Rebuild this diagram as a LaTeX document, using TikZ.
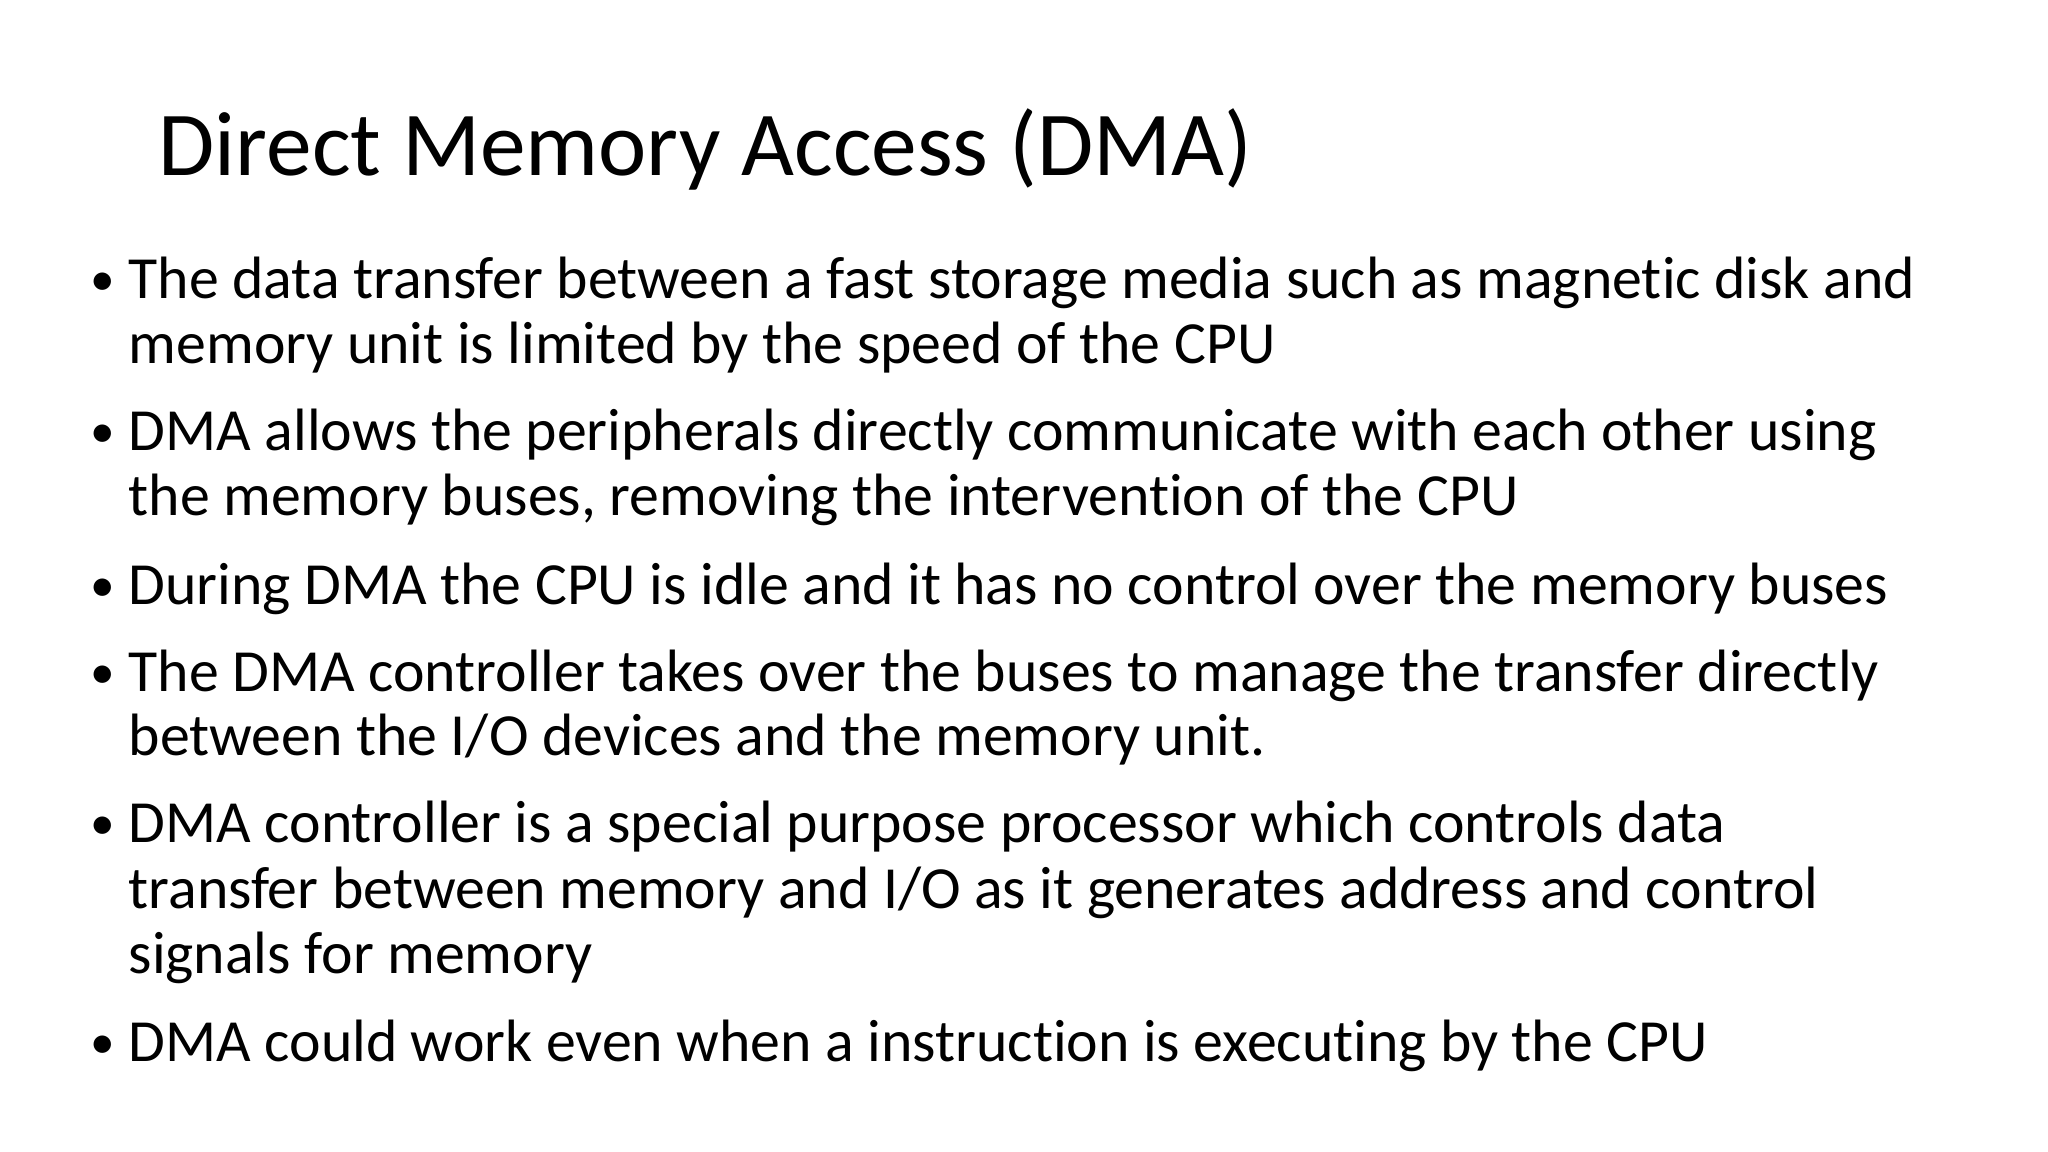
\documentclass[tikz,border=0pt]{standalone}
\usepackage{fontspec}
\setmainfont[Ligatures=NoCommon]{Carlito}
\begin{document}
\begin{tikzpicture}[x=0.01cm,y=-0.01cm,
  line/.style={anchor=base west,inner sep=0pt,font=\fontsize{17pt}{22pt}\selectfont},
  bul/.style={anchor=base west,inner sep=0pt,font=\fontsize{14pt}{18pt}\selectfont}]
\useasboundingbox (0,0) rectangle (2048,1152);
\node[anchor=base west,inner sep=0pt,font=\fontsize{26pt}{30pt}\selectfont] (title) at (158,176) {Direct Memory Access (DMA)};
\foreach \y/\n in {296/b1,448/b2,601/b3,688/b4,839/b5,1058/b6}
  \node[bul] (\n) at (90,\y) {•};
\node[line] (l1) at (128,299) {The data transfer between a fast storage media such as magnetic disk and};
\node[line] (l2) at (128,364) {memory unit is limited by the speed of the CPU};
\node[line] (l3) at (128,451) {DMA allows the peripherals directly communicate with each other using};
\node[line] (l4) at (128,516) {the memory buses, removing the intervention of the CPU};
\node[line] (l5) at (128,604) {During DMA the CPU is idle and it has no control over the memory buses};
\node[line] (l6) at (128,691) {The DMA controller takes over the buses to manage the transfer directly};
\node[line] (l7) at (128,755) {between the I/O devices and the memory unit.};
\node[line] (l8) at (128,842) {DMA controller is a special purpose processor which controls data};
\node[line] (l9) at (128,908) {transfer between memory and I/O as it generates address and control};
\node[line] (l10) at (128,973) {signals for memory};
\node[line] (l11) at (128,1061) {DMA could work even when a instruction is executing by the CPU};
\end{tikzpicture}
\end{document}
